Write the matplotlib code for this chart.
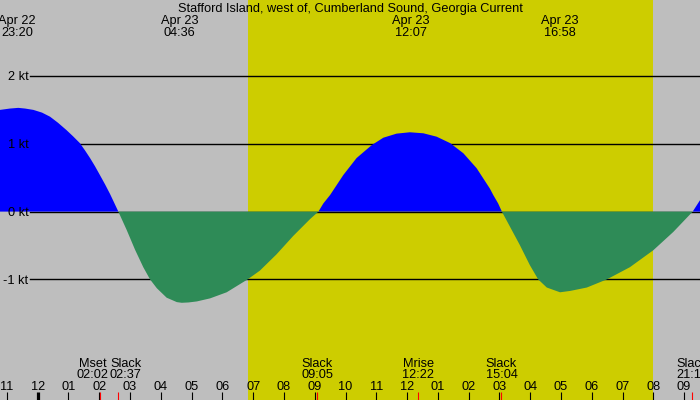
import matplotlib
matplotlib.use("Agg")
import matplotlib.pyplot as plt
import matplotlib.transforms as mtransforms
import numpy as np

# ---- data (hours since Apr 23 00:00), current speed in knots ----
times_h = [-1.225, -0.9, -0.63, -0.41, -0.14, 0.14, 0.40, 0.66, 0.94, 1.15, 1.37,
           1.54, 1.70, 1.86, 2.02, 2.19, 2.35, 2.48, 2.62,
           2.89, 3.03, 3.16, 3.43, 3.65, 3.87, 4.19, 4.52, 4.68, 4.9, 5.17, 5.60,
           6.14, 6.82, 7.22, 7.76, 8.30, 8.85, 9.12,
           9.28, 9.50, 9.93, 10.36, 10.85, 11.23, 11.66, 12.09, 12.53, 12.96, 13.40,
           13.83, 14.26, 14.69, 14.80, 14.96, 15.08,
           15.66, 15.99, 16.26, 16.54, 16.97, 17.30, 17.84, 18.49, 19.24, 20.0,
           20.65, 21.28, 21.52]
speed_kt = [1.50, 1.52, 1.53, 1.52, 1.50, 1.46, 1.40, 1.31, 1.20, 1.11, 1.01,
            0.90, 0.79, 0.67, 0.54, 0.40, 0.26, 0.135, 0.0,
            -0.27, -0.42, -0.56, -0.82, -1.0, -1.13, -1.27, -1.335, -1.345, -1.34, -1.325, -1.28,
            -1.19, -1.0, -0.87, -0.63, -0.36, -0.11, 0.0,
            0.12, 0.245, 0.54, 0.79, 0.98, 1.09, 1.15, 1.17, 1.155, 1.105, 1.01,
            0.86, 0.64, 0.34, 0.245, 0.12, 0.0,
            -0.49, -0.79, -1.0, -1.12, -1.19, -1.17, -1.12, -1.0, -0.82, -0.57,
            -0.30, 0.0, 0.17]

title = "Stafford Island, west of, Cumberland Sound, Georgia Current"
peak_times = [-0.667, 4.6, 12.117, 16.967]
peak_dates = ["Apr 22", "Apr 23", "Apr 23", "Apr 23"]
peak_labels = ["23:20", "04:36", "12:07", "16:58"]

event_times = [2.033, 2.617, 9.083, 12.367, 15.067, 21.267]
event_names = ["Mset", "Slack", "Slack", "Mrise", "Slack", "Slack"]
event_labels = ["02:02", "02:37", "09:05", "12:22", "15:04", "21:16"]

sunrise_h = 6.83
sunset_h = 20.0

y_levels = [2, 1, 0, -1]
y_labels = ["2 kt", "1 kt", "0 kt", "-1 kt"]

hour_ticks = list(range(-1, 22))
hour_labels = ["%02d" % ((h % 12) or 12) for h in hour_ticks]

# ---- figure ----
plt.rcParams['font.family'] = ['Liberation Sans', 'DejaVu Sans']
FS = 9.2
W, H = 700, 400
fig = plt.figure(figsize=(7, 4), dpi=100)
fig.patch.set_facecolor('#BEBEBE')
ax = fig.add_axes([0, 0, 1, 1])
ax.set_facecolor('#BEBEBE')
ax.set_axis_off()

px_per_h = 30.78
x0 = -37.7 / px_per_h
x1 = x0 + W / px_per_h
px_per_kt = 67.8
ytop = 211.6 / px_per_kt
ybot = ytop - H / px_per_kt
ax.set_xlim(x0, x1)
ax.set_ylim(ybot, ytop)

ax.axvspan(sunrise_h, sunset_h, color='#CDCD00', zorder=0, lw=0)

for lv, lb in zip(y_levels, y_labels):
    ax.axhline(lv, xmin=30 / W, xmax=1, color='black', lw=1.0, zorder=1)
    ax.annotate(lb, xy=(x0, lv), xytext=(28.5, -4.5), textcoords='offset pixels',
                ha='right', va='baseline', fontsize=FS, color='black', zorder=3)

t = np.array(times_h)
v = np.array(speed_kt)
ax.fill_between(t, v, 0, where=v >= 0, interpolate=True, color='#0000FF', lw=0, zorder=2)
ax.fill_between(t, v, 0, where=v <= 0, interpolate=True, color='#2E8B57', lw=0, zorder=2)

trans = mtransforms.blended_transform_factory(ax.transData, ax.transAxes)

def yfrac(py):
    return 1 - py / H

ax.text(0.5, yfrac(11.7), title, transform=ax.transAxes, ha='center', va='baseline',
        fontsize=FS, color='black')
for pt, pd, pl in zip(peak_times, peak_dates, peak_labels):
    ax.text(pt, yfrac(24), pd, transform=trans, ha='center', va='baseline', fontsize=FS)
    ax.text(pt, yfrac(36), pl, transform=trans, ha='center', va='baseline', fontsize=FS)

# hour ticks
for h, lb in zip(hour_ticks, hour_labels):
    lw = 2.3 if h == 0 else 0.8
    ax.plot([h, h], [0, yfrac(392)], transform=trans, color='black', lw=lw,
            solid_capstyle='butt', zorder=4, clip_on=False)
    ax.text(h, yfrac(390), lb, transform=trans, ha='center', va='baseline', fontsize=FS)

# event labels with simple collision spreading (in pixels)
ex = [(e - x0) * px_per_h for e in event_times]
cx = list(ex)
min_sep = 33
for i in range(len(cx) - 1):
    d = cx[i + 1] - cx[i]
    if d < min_sep:
        sh = (min_sep - d) / 2
        cx[i] -= sh
        cx[i + 1] += sh
for e, c, nm, lb in zip(event_times, cx, event_names, event_labels):
    ax.plot([e, e], [0, yfrac(392)], transform=trans, color='red', lw=0.8,
            solid_capstyle='butt', zorder=5, clip_on=False)
    xc = x0 + c / px_per_h
    ax.text(xc, yfrac(366.7), nm, transform=trans, ha='center', va='baseline', fontsize=FS)
    ax.text(xc, yfrac(378), lb, transform=trans, ha='center', va='baseline', fontsize=FS)

fig.savefig('out.png', dpi=100, facecolor=fig.get_facecolor())
